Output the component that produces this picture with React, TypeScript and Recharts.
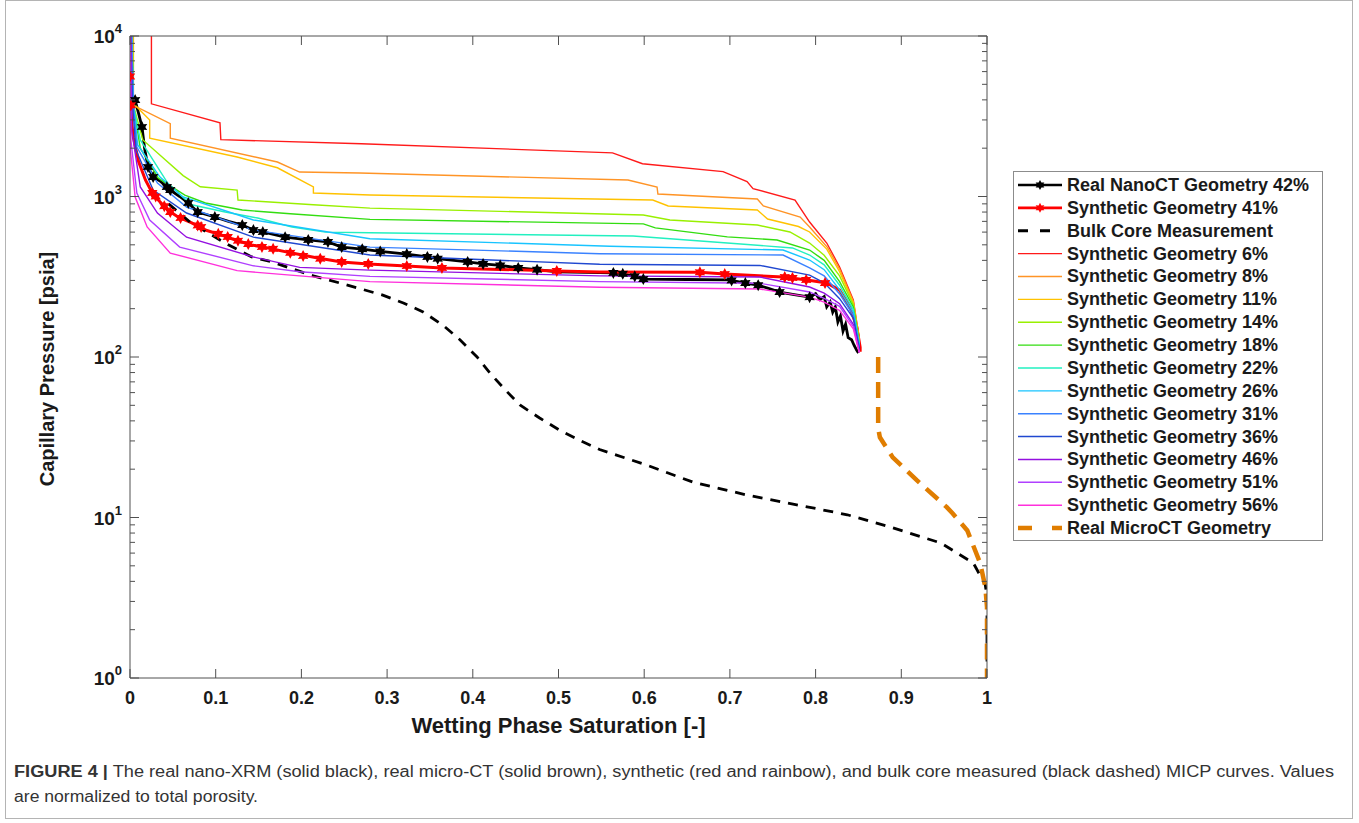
import React from "react";
import { ComposedChart, Line, XAxis, YAxis } from "recharts";

type Pt = [number, number];

const W = 1359;
const H = 823;
const FONT = '"Liberation Sans", Arial, Helvetica, sans-serif';
const AXIS = "#505050";
const TEXT = "#1a1a1a";

const X_TICKS = [0, 0.1, 0.2, 0.3, 0.4, 0.5, 0.6, 0.7, 0.8, 0.9, 1];
const X_LABELS = ["0", "0.1", "0.2", "0.3", "0.4", "0.5", "0.6", "0.7", "0.8", "0.9", "1"];
const Y_DECADES = [1, 10, 100, 1000, 10000];
const Y_EXPONENTS = ["0", "1", "2", "3", "4"];
const Y_TICKS = [
  1, 2, 3, 4, 5, 6, 7, 8, 9,
  10, 20, 30, 40, 50, 60, 70, 80, 90,
  100, 200, 300, 400, 500, 600, 700, 800, 900,
  1000, 2000, 3000, 4000, 5000, 6000, 7000, 8000, 9000,
  10000,
];

const X_TITLE = "Wetting Phase Saturation [-]";
const Y_TITLE = "Capillary Pressure [psia]";

// Real NanoCT geometry 42%
const NANO_42: Pt[] = [
  [0.006, 3990], [0.01, 3300], [0.014, 2710], [0.017, 2000], [0.021, 1527], [0.027, 1322],
  [0.035, 1250], [0.043, 1146], [0.047, 1097], [0.058, 1000], [0.068, 911], [0.079, 800],
  [0.099, 745], [0.115, 700], [0.131, 664], [0.144, 618], [0.155, 601], [0.181, 558],
  [0.208, 536], [0.231, 521], [0.247, 484], [0.271, 470], [0.292, 455], [0.323, 438],
  [0.347, 420], [0.359, 410], [0.394, 391], [0.412, 380], [0.432, 372], [0.453, 359],
  [0.475, 350], [0.499, 339], [0.564, 334], [0.575, 330], [0.589, 318], [0.599, 306],
  [0.65, 304], [0.697, 302], [0.702, 300], [0.718, 289], [0.733, 280], [0.745, 268],
  [0.758, 254], [0.775, 245], [0.793, 236], [0.8, 248], [0.805, 228], [0.81, 238],
  [0.813, 205], [0.817, 220], [0.82, 190], [0.823, 205], [0.826, 165], [0.829, 180],
  [0.832, 145], [0.835, 160], [0.838, 132], [0.842, 128], [0.845, 118], [0.848, 110],
  [0.85, 106],
];
const NANO_42_MARKS: Pt[] = [
  [0.006, 3990], [0.014, 2710], [0.021, 1527], [0.027, 1322], [0.043, 1146], [0.047, 1097],
  [0.068, 911], [0.079, 800], [0.099, 745], [0.131, 664], [0.144, 618], [0.155, 601],
  [0.181, 558], [0.208, 536], [0.231, 521], [0.247, 484], [0.271, 470], [0.292, 455],
  [0.323, 438], [0.347, 420], [0.359, 410], [0.394, 391], [0.412, 380], [0.432, 372],
  [0.453, 359], [0.475, 350], [0.564, 334], [0.575, 330], [0.589, 318], [0.599, 306],
  [0.702, 300], [0.718, 289], [0.733, 280], [0.758, 254], [0.793, 236],
];

// Synthetic geometry 41%
const SYN_41: Pt[] = [
  [0, 10000], [0, 5600], [0.001, 3700], [0.002, 2860], [0.004, 2330], [0.01, 1650],
  [0.018, 1267], [0.026, 1052], [0.033, 951], [0.044, 824], [0.056, 745], [0.072, 685],
  [0.088, 618], [0.107, 575], [0.123, 536], [0.142, 499], [0.161, 478], [0.189, 444],
  [0.219, 414], [0.247, 391], [0.278, 380], [0.323, 369], [0.364, 359], [0.498, 344],
  [0.548, 339], [0.665, 337], [0.694, 329], [0.762, 315], [0.79, 302], [0.813, 289],
  [0.828, 261], [0.84, 205], [0.848, 154], [0.852, 115], [0.852, 108],
];
const SYN_41_MARKS: Pt[] = [
  [0, 5600], [0.001, 3700], [0.026, 1052], [0.03, 1000], [0.04, 870], [0.047, 800],
  [0.059, 735], [0.079, 660], [0.083, 645], [0.103, 585], [0.114, 560], [0.126, 530],
  [0.138, 505], [0.154, 485], [0.167, 472], [0.187, 446], [0.202, 426], [0.222, 410],
  [0.247, 391], [0.278, 380], [0.323, 369], [0.364, 359], [0.498, 344], [0.665, 337],
  [0.694, 329], [0.764, 315], [0.773, 311], [0.789, 302], [0.811, 289],
];

// Bulk core measurement
const BULK: Pt[] = [
  [0.045, 900], [0.07, 693], [0.111, 513], [0.142, 420], [0.166, 391], [0.193, 349],
  [0.214, 320], [0.245, 289], [0.295, 243], [0.319, 217], [0.342, 191], [0.365, 158],
  [0.385, 128], [0.405, 100], [0.42, 79.4], [0.438, 62.3], [0.455, 50.2], [0.478, 41.7],
  [0.501, 35.1], [0.529, 29.5], [0.548, 26.5], [0.603, 21.2], [0.657, 16.6], [0.72, 13.8],
  [0.778, 12], [0.837, 10.4], [0.887, 8.73], [0.946, 6.94], [0.984, 5.21], [0.998, 3.8],
  [1.0, 3.2], [1.0, 1],
];

// Synthetic geometries (rainbow)
const SYN_6: Pt[] = [
  [0.025, 10000], [0.025, 3780], [0.105, 2880], [0.106, 2260], [0.27, 2130], [0.563, 1870],
  [0.598, 1600], [0.692, 1430], [0.72, 1240], [0.727, 1120], [0.776, 950], [0.793, 693],
  [0.813, 513], [0.828, 364], [0.844, 227], [0.851, 130], [0.851, 108],
];
const SYN_8: Pt[] = [
  [0.004, 10000], [0.004, 3700], [0.047, 2840], [0.047, 2310], [0.172, 1640], [0.198, 1420],
  [0.268, 1400], [0.581, 1267], [0.615, 1146], [0.616, 1037], [0.732, 965], [0.739, 873],
  [0.782, 745], [0.793, 646], [0.814, 480], [0.828, 353], [0.844, 222], [0.851, 128],
  [0.851, 108],
];
const SYN_11: Pt[] = [
  [0.003, 10000], [0.004, 3800], [0.023, 3000], [0.023, 2310], [0.125, 1763], [0.172, 1510],
  [0.214, 1146], [0.214, 1052], [0.28, 1021], [0.61, 951], [0.628, 873], [0.732, 824],
  [0.744, 724], [0.78, 650], [0.793, 601], [0.813, 470], [0.828, 340], [0.844, 218],
  [0.851, 126], [0.851, 108],
];
const SYN_14: Pt[] = [
  [0.003, 10000], [0.004, 3700], [0.015, 2250], [0.062, 1350], [0.082, 1150], [0.125, 1097],
  [0.126, 951], [0.214, 888], [0.28, 847], [0.599, 767], [0.63, 714], [0.732, 664],
  [0.77, 601], [0.793, 513], [0.81, 430], [0.828, 320], [0.844, 212], [0.851, 124],
  [0.851, 108],
];
const SYN_18: Pt[] = [
  [0.002, 10000], [0.004, 3700], [0.012, 2000], [0.033, 1300], [0.064, 1021], [0.088, 911],
  [0.131, 824], [0.187, 780], [0.28, 720], [0.599, 675], [0.613, 637], [0.697, 560],
  [0.755, 536], [0.793, 464], [0.81, 400], [0.828, 295], [0.844, 205], [0.851, 122],
  [0.851, 108],
];
const SYN_22: Pt[] = [
  [0.002, 10000], [0.004, 3700], [0.012, 2250], [0.044, 1213], [0.056, 1052], [0.072, 888],
  [0.111, 800], [0.149, 734], [0.189, 646], [0.228, 600], [0.28, 595], [0.587, 567],
  [0.697, 513], [0.773, 478], [0.793, 432], [0.81, 375], [0.828, 280], [0.844, 198],
  [0.851, 120], [0.851, 108],
];
const SYN_26: Pt[] = [
  [0.002, 10000], [0.004, 3700], [0.009, 2094], [0.035, 1322], [0.062, 993], [0.144, 714],
  [0.28, 546], [0.56, 490], [0.762, 464], [0.793, 402], [0.81, 350], [0.828, 262],
  [0.844, 190], [0.851, 118], [0.851, 108],
];
const SYN_31: Pt[] = [
  [0.002, 10000], [0.004, 3700], [0.008, 2034], [0.032, 1213], [0.066, 860], [0.144, 618],
  [0.28, 484], [0.548, 440], [0.762, 432], [0.793, 359], [0.81, 320], [0.828, 247],
  [0.844, 182], [0.851, 116], [0.851, 108],
];
const SYN_36: Pt[] = [
  [0.001, 10000], [0.003, 3700], [0.007, 1950], [0.027, 1097], [0.066, 789], [0.144, 558],
  [0.28, 432], [0.548, 378], [0.735, 372], [0.793, 324], [0.81, 290], [0.828, 231],
  [0.844, 175], [0.851, 114], [0.851, 108],
];
const SYN_46: Pt[] = [
  [0.001, 10000], [0.002, 2600], [0.012, 1146], [0.032, 789], [0.066, 558], [0.144, 420],
  [0.198, 362], [0.28, 348], [0.548, 320], [0.735, 315], [0.793, 273], [0.81, 250],
  [0.828, 215], [0.844, 160], [0.851, 108],
];
const SYN_51: Pt[] = [
  [0.0005, 10000], [0.001, 2250], [0.008, 1052], [0.023, 714], [0.058, 484], [0.144, 370],
  [0.198, 340], [0.28, 318], [0.548, 295], [0.735, 288], [0.793, 254], [0.81, 232],
  [0.828, 207], [0.844, 155], [0.851, 107],
];
const SYN_56: Pt[] = [
  [0, 10000], [0.0005, 1950], [0.006, 993], [0.02, 646], [0.047, 444], [0.125, 345],
  [0.198, 320], [0.28, 295], [0.548, 272], [0.735, 265], [0.793, 236], [0.81, 220],
  [0.828, 195], [0.844, 150], [0.851, 106],
];

// Real MicroCT geometry
const MICRO: Pt[] = [
  [0.873, 100], [0.873, 36], [0.875, 31.6], [0.89, 23.7], [0.918, 17.1], [0.953, 11.6],
  [0.96, 10.6], [0.977, 8.3], [0.992, 5.2], [0.998, 3.7], [1.0, 2.77], [1.0, 1],
];

type Series = {
  name: string;
  color: string;
  width: number;
  dash?: string;
  data: Pt[];
  marks?: Pt[];
};

const SERIES: Series[] = [
  { name: "Real NanoCT Geometry 42%", color: "#000000", width: 2.8, data: NANO_42, marks: NANO_42_MARKS },
  { name: "Synthetic Geometry 41%", color: "#ff0000", width: 3, data: SYN_41, marks: SYN_41_MARKS },
  { name: "Bulk Core Measurement", color: "#000000", width: 2.8, dash: "10 8", data: BULK },
  { name: "Synthetic Geometry 6%", color: "#ff1a1a", width: 1.4, data: SYN_6 },
  { name: "Synthetic Geometry 8%", color: "#ff9426", width: 1.4, data: SYN_8 },
  { name: "Synthetic Geometry 11%", color: "#ffc200", width: 1.4, data: SYN_11 },
  { name: "Synthetic Geometry 14%", color: "#99f000", width: 1.4, data: SYN_14 },
  { name: "Synthetic Geometry 18%", color: "#33dd10", width: 1.4, data: SYN_18 },
  { name: "Synthetic Geometry 22%", color: "#22f0c0", width: 1.4, data: SYN_22 },
  { name: "Synthetic Geometry 26%", color: "#18c4ff", width: 1.4, data: SYN_26 },
  { name: "Synthetic Geometry 31%", color: "#3a82ff", width: 1.4, data: SYN_31 },
  { name: "Synthetic Geometry 36%", color: "#2048d0", width: 1.4, data: SYN_36 },
  { name: "Synthetic Geometry 46%", color: "#9410e0", width: 1.4, data: SYN_46 },
  { name: "Synthetic Geometry 51%", color: "#b040ff", width: 1.4, data: SYN_51 },
  { name: "Synthetic Geometry 56%", color: "#ff30dc", width: 1.4, data: SYN_56 },
  { name: "Real MicroCT Geometry", color: "#e07d00", width: 4.5, dash: "16 9", data: MICRO },
];

const toRows = (pts: Pt[]) => pts.map(([x, y]) => ({ x, y }));

const starPath = (cx: number, cy: number, r: number) => {
  let d = "";
  for (let i = 0; i < 12; i++) {
    const a = (Math.PI / 6) * i - Math.PI / 2;
    const rr = i % 2 === 0 ? r : r * 0.55;
    d += (i === 0 ? "M" : "L") + (cx + rr * Math.cos(a)).toFixed(2) + "," + (cy + rr * Math.sin(a)).toFixed(2);
  }
  return d + "Z";
};

const LeftYTick = (props: any) => {
  const { x, y, payload } = props;
  const k = Y_DECADES.indexOf(payload.value);
  const major = k >= 0;
  return (
    <g>
      <line x1={x} y1={y} x2={x + (major ? 9 : 5)} y2={y} stroke={AXIS} strokeWidth={1} />
      {major && (
        <text x={x - 8} y={y + 7} textAnchor="end" fontFamily={FONT} fontSize={19} fontWeight="bold" fill={TEXT}>
          10
          <tspan dy={-10} fontSize={13}>{Y_EXPONENTS[k]}</tspan>
        </text>
      )}
    </g>
  );
};

const RightYTick = (props: any) => {
  const { x, y, payload } = props;
  const major = Y_DECADES.indexOf(payload.value) >= 0;
  return <line x1={x} y1={y} x2={x - (major ? 9 : 5)} y2={y} stroke={AXIS} strokeWidth={1} />;
};

const BottomXTick = (props: any) => {
  const { x, y, payload } = props;
  const i = X_TICKS.indexOf(payload.value);
  return (
    <g>
      <line x1={x} y1={y} x2={x} y2={y - 9} stroke={AXIS} strokeWidth={1} />
      <text x={x} y={y + 26} textAnchor="middle" fontFamily={FONT} fontSize={18} fontWeight="bold" fill={TEXT}>
        {X_LABELS[i]}
      </text>
    </g>
  );
};

const TopXTick = (props: any) => {
  const { x, y } = props;
  return <line x1={x} y1={y} x2={x} y2={y + 9} stroke={AXIS} strokeWidth={1} />;
};

const XTitle = (props: any) => {
  const vb = props.viewBox;
  return (
    <text x={vb.x + vb.width / 2} y={vb.y + 55} textAnchor="middle" fontFamily={FONT} fontSize={22} fontWeight="bold" fill={TEXT}>
      {X_TITLE}
    </text>
  );
};

const YTitle = (props: any) => {
  const vb = props.viewBox;
  const cx = vb.x - 6;
  const cy = vb.y + vb.height / 2 + 12;
  return (
    <text x={cx} y={cy} transform={`rotate(-90 ${cx} ${cy})`} textAnchor="middle" fontFamily={FONT} fontSize={20} fontWeight="bold" fill={TEXT}>
      {Y_TITLE}
    </text>
  );
};

const LEGEND_X = 1013;
const LEGEND_Y = 171;
const LEGEND_W = 309;
const LEGEND_H = 369;
const ROW_0 = 185;
const ROW_STEP = 22.87;

function LegendBox() {
  return (
    <g>
      <rect x={LEGEND_X + 0.5} y={LEGEND_Y + 0.5} width={LEGEND_W} height={LEGEND_H} fill="#fff" stroke="#8c8c8c" strokeWidth={1} />
      {SERIES.map((s, i) => {
        const y = ROW_0 + i * ROW_STEP;
        return (
          <g key={s.name}>
            <line
              x1={1018}
              y1={y}
              x2={1062}
              y2={y}
              stroke={s.color}
              strokeWidth={s.dash ? s.width : Math.min(s.width, 2.6)}
              strokeDasharray={s.dash ? (s.width > 3 ? "14 20" : "10 12") : undefined}
            />
            {s.marks && <path d={starPath(1040, y, 5)} fill={s.color} />}
            <text x={1067} y={y + 6} fontFamily={FONT} fontSize={18} fontWeight="bold" fill={TEXT}>
              {s.name}
            </text>
          </g>
        );
      })}
    </g>
  );
}

export default function App() {
  const lines: React.ReactElement[] = [];
  SERIES.forEach((s) => {
    lines.push(
      <Line
        key={s.name}
        data={toRows(s.data)}
        dataKey="y"
        type="linear"
        stroke={s.color}
        strokeWidth={s.width}
        strokeDasharray={s.dash}
        dot={false}
        activeDot={false}
        legendType="none"
        isAnimationActive={false}
      />
    );
    if (s.marks) {
      const color = s.color;
      lines.push(
        <Line
          key={s.name + "-marks"}
          data={toRows(s.marks)}
          dataKey="y"
          type="linear"
          stroke="none"
          dot={(p: any) => <path key={`${s.name}-${p.index}`} d={starPath(p.cx, p.cy, 6)} fill={color} />}
          activeDot={false}
          legendType="none"
          isAnimationActive={false}
        />
      );
    }
  });

  return (
    <div style={{ position: "absolute", left: 0, top: 0, width: W, height: H, background: "#fff" }}>
      <ComposedChart width={W} height={H} margin={{ top: 35, right: 371, bottom: 115, left: 60 }}>
        <XAxis
          dataKey="x"
          type="number"
          domain={[0, 1]}
          ticks={X_TICKS}
          interval={0}
          allowDataOverflow
          height={30}
          tickSize={0}
          tickMargin={0}
          tickLine={false}
          axisLine={{ stroke: AXIS }}
          tick={BottomXTick}
          label={<XTitle />}
        />
        <XAxis
          xAxisId="top"
          orientation="top"
          dataKey="x"
          type="number"
          domain={[0, 1]}
          ticks={X_TICKS}
          interval={0}
          allowDataOverflow
          height={1}
          tickSize={0}
          tickMargin={0}
          tickLine={false}
          axisLine={{ stroke: AXIS }}
          tick={TopXTick}
        />
        <YAxis
          type="number"
          scale="log"
          domain={[1, 10000]}
          ticks={Y_TICKS}
          interval={0}
          allowDataOverflow
          width={70}
          tickSize={0}
          tickMargin={0}
          tickLine={false}
          axisLine={{ stroke: AXIS }}
          tick={LeftYTick}
          label={<YTitle />}
        />
        <YAxis
          yAxisId="right"
          orientation="right"
          type="number"
          scale="log"
          domain={[1, 10000]}
          ticks={Y_TICKS}
          interval={0}
          allowDataOverflow
          width={1}
          tickSize={0}
          tickMargin={0}
          tickLine={false}
          axisLine={{ stroke: AXIS }}
          tick={RightYTick}
        />
        <Line
          xAxisId="top"
          yAxisId="right"
          data={toRows(MICRO)}
          dataKey="y"
          stroke="none"
          dot={false}
          activeDot={false}
          legendType="none"
          isAnimationActive={false}
        />
        {lines}
      </ComposedChart>
      <svg width={W} height={H} style={{ position: "absolute", left: 0, top: 0, pointerEvents: "none" }}>
        <rect x={5.5} y={0.5} width={1347} height={818} fill="none" stroke="#b4b4b4" strokeWidth={1} />
        <LegendBox />
        <text x={14} y={777} fontFamily={FONT} fontSize={16} fill="#333" textLength={1320} lengthAdjust="spacingAndGlyphs">
          <tspan fontWeight="bold">FIGURE 4 |</tspan> The real nano-XRM (solid black), real micro-CT (solid brown), synthetic (red and rainbow), and bulk core measured (black dashed) MICP curves. Values
        </text>
        <text x={14} y={802} fontFamily={FONT} fontSize={16} fill="#333" textLength={244} lengthAdjust="spacingAndGlyphs">
          are normalized to total porosity.
        </text>
      </svg>
    </div>
  );
}
